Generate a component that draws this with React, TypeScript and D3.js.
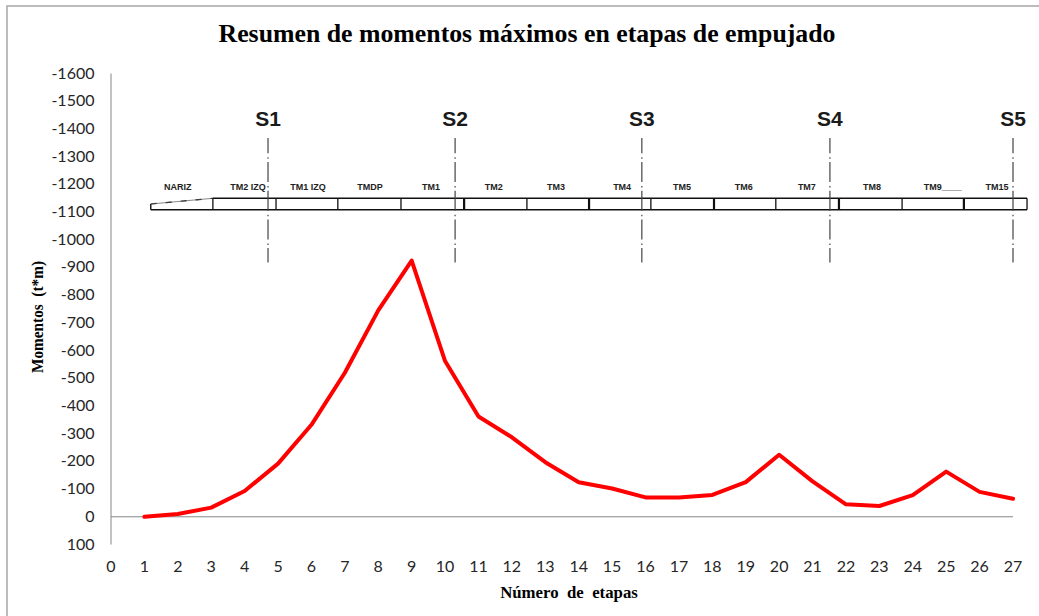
import React from "react";
import * as d3 from "d3";

const W = 1039, H = 616;
const stages = d3.range(1, 28);
const moments = [0, -10, -33, -93, -192, -332, -520, -745, -925, -562, -362, -287, -197, -125, -102, -70, -70, -79, -125, -224, -128, -45, -39, -78, -163, -90, -65];
const yTicks = d3.range(-1600, 101, 100);
const xTicks = d3.range(0, 28);
const supportStages = [4.7, 10.3, 15.89, 21.52, 27];
const supportLabels = ["S1", "S2", "S3", "S4", "S5"];
const seamStages = [3.05, 4.94, 6.79, 8.68, 10.57, 12.45, 14.31, 16.16, 18.05, 19.9, 21.79, 23.68, 25.53, 27.42];
const thickSeams = [10.57, 14.31, 18.05, 21.79, 25.53];
const segmentLabels = ["NARIZ", "TM2 IZQ", "TM1 IZQ", "TMDP", "TM1", "TM2", "TM3", "TM4", "TM5", "TM6", "TM7", "TM8", "TM9____", "TM15"];
const segmentLabelStages = [2.0, 4.1, 5.9, 7.75, 9.58, 11.46, 13.32, 15.3, 17.09, 18.94, 20.83, 22.78, 24.9, 26.52];
const noseStart = 1.19;

const FONT = "Lato, 'Open Sans', sans-serif";
const SERIF = "'Liberation Serif', serif";
const ARIAL = "'Liberation Sans', sans-serif";

const x = d3.scaleLinear().domain([0, 27]).range([111, 1013]);
const y = d3.scaleLinear().domain([-1600, 100]).range([73.5, 544.5]);

const line = d3.line<number>().x((_, i) => x(stages[i])).y((d) => y(d));

export default function App() {
  const beamTop = 198.3, beamBottom = 209.8;
  const noseTop = 198.3, noseLow = 204;
  const lastSeam = seamStages[seamStages.length - 1];
  return (
    <svg width={W} height={H} style={{ position: "absolute", left: 0, top: 0, background: "#fff" }}>
      <rect x={7} y={6} width={1040} height={640} fill="#fff" stroke="#a6a6a6" strokeWidth={1.5} />
      <text x={527} y={42} textAnchor="middle" fontFamily={SERIF} fontWeight={700} fontSize={25.8} fill="#000">
        Resumen de momentos máximos en etapas de empujado
      </text>

      <line x1={x(0)} x2={x(0)} y1={y(-1600)} y2={y(100)} stroke="#868686" />
      <line x1={x(0)} x2={x(27)} y1={y(0)} y2={y(0)} stroke="#868686" />
      {yTicks.map((t) => (
        <text key={t} x={94.5} y={y(t) + 5} textAnchor="end" fontFamily={FONT} fontSize={16} fill="#262626">
          {t}
        </text>
      ))}
      {xTicks.map((t) => (
        <text key={t} x={x(t)} y={572} textAnchor="middle" fontFamily={FONT} fontSize={16} fill="#262626">
          {t}
        </text>
      ))}
      <text
        transform="translate(43,317) rotate(-90)"
        textAnchor="middle"
        fontFamily={SERIF}
        fontWeight={700}
        fontSize={17}
        textLength={112}
        lengthAdjust="spacingAndGlyphs"
        fill="#000"
        xmlSpace="preserve"
      >
        Momentos  (t*m)
      </text>
      <text x={569} y={598} textAnchor="middle" fontFamily={SERIF} fontWeight={700} fontSize={16.8} fill="#000" xmlSpace="preserve">
        Número  de  etapas
      </text>

      <g stroke="#111" fill="none">
        <line x1={x(seamStages[0])} x2={x(lastSeam)} y1={beamTop} y2={beamTop} strokeWidth={1.4} />
        <line x1={x(noseStart)} x2={x(lastSeam)} y1={beamBottom} y2={beamBottom} strokeWidth={1.4} />
        <line x1={x(noseStart)} x2={x(noseStart)} y1={noseLow} y2={beamBottom} strokeWidth={1.4} />
        <line x1={x(noseStart)} x2={x(seamStages[0])} y1={noseLow} y2={noseTop} strokeWidth={1.2} strokeDasharray="6 9" />
        <line x1={x(noseStart)} x2={x(seamStages[0])} y1={noseLow} y2={noseTop} strokeWidth={0.7} stroke="#555" />
        {seamStages.map((s) => (
          <line key={s} x1={x(s)} x2={x(s)} y1={beamTop} y2={beamBottom} strokeWidth={thickSeams.includes(s) ? 2.2 : 1.3} />
        ))}
      </g>
      {segmentLabels.map((l, i) => (
        <text key={l} x={x(segmentLabelStages[i])} y={189.5} textAnchor="middle" fontFamily={ARIAL} fontWeight={700} fontSize={9} fill="#222">
          {l}
        </text>
      ))}

      {supportStages.map((s, i) => (
        <g key={s}>
          <line x1={x(s)} x2={x(s)} y1={138} y2={262.5} stroke="#444" strokeWidth={1.2} strokeDasharray="20 4 1.5 3.2" strokeDashoffset={4.7} />
          <text x={x(s)} y={126} textAnchor="middle" fontFamily={ARIAL} fontWeight={700} fontSize={21} fill="#1a1a1a">
            {supportLabels[i]}
          </text>
        </g>
      ))}

      <path d={line(moments) ?? ""} fill="none" stroke="#ff0000" strokeWidth={4} strokeLinejoin="round" strokeLinecap="round" />
    </svg>
  );
}
